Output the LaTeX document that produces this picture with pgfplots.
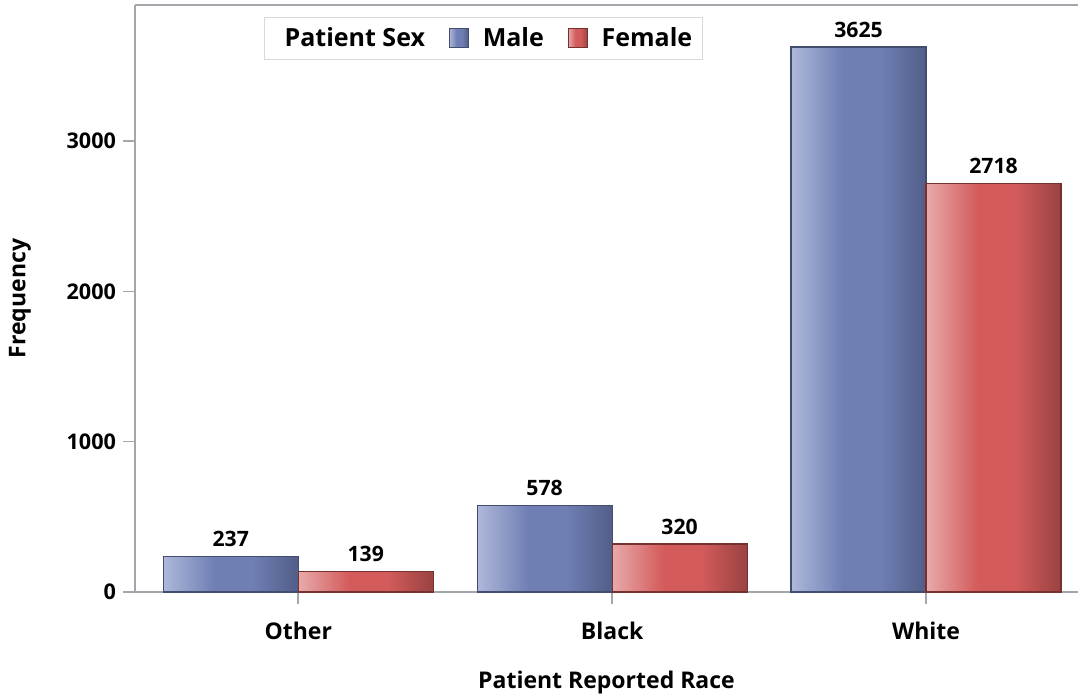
\documentclass[border=0pt]{standalone}
\usepackage{fontspec}
\setmainfont{Open Sans}
\usepackage{pgfplots}
\pgfplotsset{compat=1.18}

\definecolor{axgray}{HTML}{A3A7AC}
\definecolor{bluelt}{HTML}{AEB8D9}
\definecolor{bluemd}{HTML}{6F7FB4}
\definecolor{bluedk}{HTML}{525E88}
\definecolor{blueedge}{HTML}{434D70}
\definecolor{redlt}{HTML}{E8AAAA}
\definecolor{redmd}{HTML}{D35B5B}
\definecolor{reddk}{HTML}{9A4242}
\definecolor{rededge}{HTML}{763030}

\pgfdeclarehorizontalshading{maleshade}{100bp}{color(0bp)=(bluelt); color(25bp)=(bluelt); color(44bp)=(bluemd); color(58bp)=(bluemd); color(75bp)=(bluedk); color(100bp)=(bluedk)}
\pgfdeclarehorizontalshading{femaleshade}{100bp}{color(0bp)=(redlt); color(25bp)=(redlt); color(44bp)=(redmd); color(58bp)=(redmd); color(75bp)=(reddk); color(100bp)=(reddk)}

\pgfplotsset{
    male/.style={draw=blueedge, line width=0.6pt, shade, shading=maleshade, bar shift=-33.75pt},
    female/.style={draw=rededge, line width=0.6pt, shade, shading=femaleshade, bar shift=33.75pt},
}

\begin{document}
\begin{tikzpicture}
\path[use as bounding box] (-67.5pt,-50.5pt) rectangle (471.5pt,296pt);
\begin{axis}[
    scale only axis,
    width=471.5pt, height=293.5pt,
    at={(0,0)}, anchor=south west,
    ybar=0pt,
    bar width=67.5pt,
    xmin=-0.52, xmax=2.484,
    ymin=0, ymax=3905,
    xtick={0,1,2},
    xticklabels={Other,Black,White},
    ytick={0,1000,2000,3000},
    axis x line*=box,
    axis y line*=left,
    axis line style={axgray, line width=0.8pt},
    tick style={axgray, line width=0.8pt},
    tick align=outside,
    major tick length=6pt,
    xtick pos=bottom, ytick pos=left,
    yticklabel style={font=\bfseries\fontsize{10.8}{12}\selectfont},
    xticklabel style={font=\bfseries\fontsize{11.5}{13}\selectfont, yshift=-5.5pt},
    /pgf/number format/assume math mode=true,
    /pgf/number format/1000 sep={},
    xlabel={Patient Reported Race},
    ylabel={Frequency},
    xlabel style={font=\bfseries\fontsize{11.5}{13}\selectfont, yshift=-9pt},
    ylabel style={font=\bfseries\fontsize{11.5}{13}\selectfont, yshift=11pt},
    nodes near coords,
    nodes near coords style={font=\bfseries\fontsize{10.6}{12}\selectfont, black, yshift=1pt},
    legend columns=3,
    legend style={at={(0.137,0.98)}, anchor=north west,
        draw=black!15, line width=0.5pt, inner ysep=3pt,
        font=\bfseries\fontsize{12.5}{14}\selectfont,
        /tikz/every odd column/.append style={column sep=5pt},
        /tikz/every even column/.append style={column sep=10pt}},
    legend image code/.code={\draw[#1, line width=0.4pt] (0pt,-4.75pt) rectangle (9.5pt,4.75pt);},
    clip=false,
]
\addlegendimage{empty legend}
\addlegendentry{Patient Sex\hspace{10pt}}
\addplot[male] coordinates {(0,237)};
\addlegendentry{Male}
\addplot[female] coordinates {(0,139)};
\addlegendentry{Female}
\addplot[male, forget plot] coordinates {(1,578)};
\addplot[female, forget plot] coordinates {(1,320)};
\addplot[male, forget plot] coordinates {(2,3625)};
\addplot[female, forget plot] coordinates {(2,2718)};
\end{axis}
\end{tikzpicture}
\end{document}
